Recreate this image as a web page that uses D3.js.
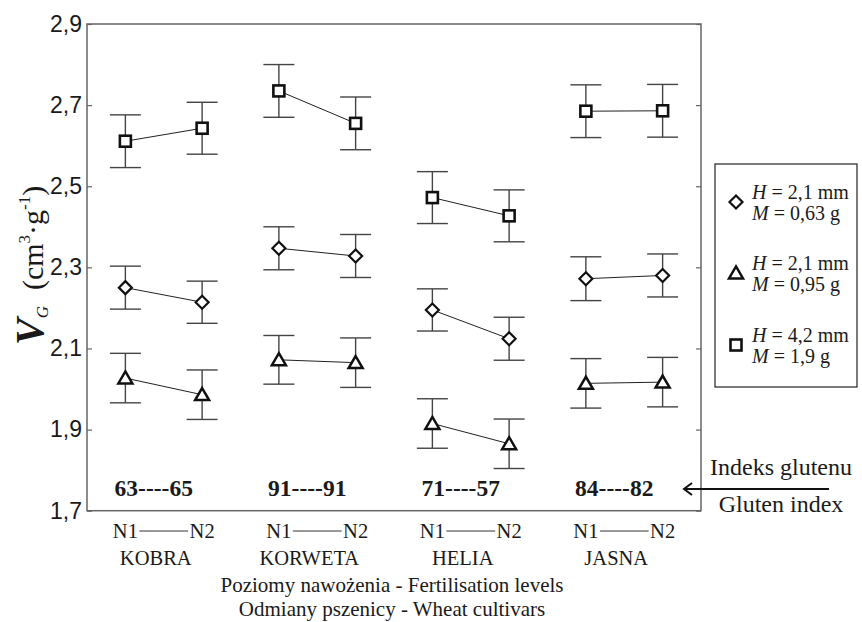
<!DOCTYPE html>
<html>
<head>
<meta charset="utf-8">
<script src="https://cdn.jsdelivr.net/npm/d3@7/dist/d3.min.js"></script>
<style>
  html, body { margin: 0; padding: 0; background: #fff; }
  svg { display: block; }
  text { font-family: "Liberation Serif", "Times New Roman", serif; fill: #1a1a1a; }
</style>
</head>
<body>
<svg id="chart" width="862" height="622"></svg>
<script>
// ---------- data ----------
const cultivars = ["KOBRA", "KORWETA", "HELIA", "JASNA"];
const levels = ["N1", "N2"];
const glutenIndex = ["63----65", "91----91", "71----57", "84----82"];
const yTicks = [1.7, 1.9, 2.1, 2.3, 2.5, 2.7, 2.9];

// order: KOBRA N1, KOBRA N2, KORWETA N1, KORWETA N2, HELIA N1, HELIA N2, JASNA N1, JASNA N2
const diamondMean = [2.250, 2.214, 2.347, 2.328, 2.195, 2.124, 2.272, 2.280];
const diamondErr  = [0.053, 0.052, 0.053, 0.053, 0.052, 0.053, 0.054, 0.053];
const triangleMean = [2.027, 1.986, 2.072, 2.065, 1.915, 1.865, 2.014, 2.017];
const triangleErr  = [0.061, 0.061, 0.060, 0.061, 0.061, 0.061, 0.061, 0.061];
const squareMean = [2.611, 2.643, 2.735, 2.655, 2.472, 2.427, 2.685, 2.686];
const squareErr  = [0.065, 0.064, 0.065, 0.065, 0.064, 0.064, 0.065, 0.065];

const legendItems = [
  { shape: "diamond", h: "2,1 mm", m: "0,63 g" },
  { shape: "triangle", h: "2,1 mm", m: "0,95 g" },
  { shape: "square", h: "4,2 mm", m: "1,9 g" }
];

// ---------- layout ----------
const svg = d3.select("#chart");
const plot = { left: 87, right: 701, top: 24, bottom: 510.7 };

const positions = d3.range(cultivars.length * levels.length);
const x = d3.scaleBand().domain(positions).range([plot.left, plot.right]);
const cx = i => x(i) + x.bandwidth() / 2;
const y = d3.scaleLinear().domain([1.7, 2.9]).range([plot.bottom, plot.top]);

const fmt = v => d3.format(".1f")(v).replace(".", ",");

// frame
svg.append("rect")
  .attr("x", plot.left).attr("y", plot.top)
  .attr("width", plot.right - plot.left).attr("height", plot.bottom - plot.top)
  .attr("fill", "none").attr("stroke", "#666").attr("stroke-width", 1.5);

// left axis
const yAxisL = svg.append("g")
  .attr("transform", `translate(${plot.left},0)`)
  .call(d3.axisLeft(y).tickValues(yTicks).tickFormat(fmt).tickSize(-5).tickPadding(5));
yAxisL.select(".domain").remove();
yAxisL.selectAll("line").attr("stroke", "#666").attr("stroke-width", 1.2);
yAxisL.selectAll("text")
  .style("font-family", "'Liberation Sans', Arial, sans-serif")
  .style("font-size", "23px").attr("fill", "#1a1a1a");

// right axis ticks
const yAxisR = svg.append("g")
  .attr("transform", `translate(${plot.right},0)`)
  .call(d3.axisRight(y).tickValues(yTicks).tickFormat("").tickSize(-5));
yAxisR.select(".domain").remove();
yAxisR.selectAll("line").attr("stroke", "#666").attr("stroke-width", 1.2);

// series
const series = [
  { shape: "diamond", mean: diamondMean, err: diamondErr },
  { shape: "triangle", mean: triangleMean, err: triangleErr },
  { shape: "square", mean: squareMean, err: squareErr }
];

function drawShape(g, shape, px, py) {
  if (shape === "diamond") {
    const r = 6.5;
    g.append("path")
      .attr("d", `M${px},${py - r}L${px + r},${py}L${px},${py + r}L${px - r},${py}Z`)
      .attr("fill", "#fff").attr("stroke", "#111").attr("stroke-width", 2.2);
  } else if (shape === "triangle") {
    const w = 7, h = 12;
    g.append("path")
      .attr("d", `M${px},${py - h * 0.55}L${px + w},${py + h * 0.45}L${px - w},${py + h * 0.45}Z`)
      .attr("fill", "#fff").attr("stroke", "#111").attr("stroke-width", 2.5)
      .attr("stroke-linejoin", "miter");
  } else {
    const s = 11;
    g.append("rect")
      .attr("x", px - s / 2).attr("y", py - s / 2).attr("width", s).attr("height", s)
      .attr("fill", "#fff").attr("stroke", "#111").attr("stroke-width", 2.6);
  }
}

const capHalf = 15.5;
const marks = svg.append("g");
series.forEach(s => {
  // error bars
  positions.forEach(i => {
    const px = cx(i);
    const lo = y(s.mean[i] - s.err[i]), hi = y(s.mean[i] + s.err[i]);
    marks.append("line").attr("x1", px).attr("x2", px).attr("y1", lo).attr("y2", hi)
      .attr("stroke", "#444").attr("stroke-width", 1.4);
    [lo, hi].forEach(v => marks.append("line")
      .attr("x1", px - capHalf).attr("x2", px + capHalf).attr("y1", v).attr("y2", v)
      .attr("stroke", "#444").attr("stroke-width", 1.4));
  });
  // connecting lines per cultivar
  cultivars.forEach((c, k) => {
    const a = 2 * k, b = 2 * k + 1;
    marks.append("line")
      .attr("x1", cx(a)).attr("y1", y(s.mean[a]))
      .attr("x2", cx(b)).attr("y2", y(s.mean[b]))
      .attr("stroke", "#222").attr("stroke-width", 1);
  });
});
series.forEach(s => positions.forEach(i => drawShape(marks, s.shape, cx(i), y(s.mean[i]))));

// gluten index numbers
cultivars.forEach((c, k) => {
  const gc = (cx(2 * k) + cx(2 * k + 1)) / 2 - 10;
  svg.append("text").attr("x", gc).attr("y", 496)
    .attr("text-anchor", "middle")
    .style("font-size", "23.5px").style("font-weight", "bold")
    .text(glutenIndex[k]);
});

// x labels N1 —— N2 and cultivar names
cultivars.forEach((c, k) => {
  const a = cx(2 * k), b = cx(2 * k + 1);
  levels.forEach((lv, j) => {
    svg.append("text").attr("x", j === 0 ? a : b).attr("y", 538)
      .attr("text-anchor", "middle").style("font-size", "20.5px").text(lv);
  });
  svg.append("line").attr("x1", a + 14).attr("x2", b - 14).attr("y1", 531).attr("y2", 531)
    .attr("stroke", "#333").attr("stroke-width", 1);
  svg.append("text").attr("x", (a + b) / 2 - 8).attr("y", 565)
    .attr("text-anchor", "middle").style("font-size", "20.5px").text(c);
});

// axis captions
const midX = (plot.left + plot.right) / 2 - 2;
svg.append("text").attr("x", midX).attr("y", 592).attr("text-anchor", "middle")
  .style("font-size", "21px").text("Poziomy nawożenia - Fertilisation levels");
svg.append("text").attr("x", midX).attr("y", 615.5).attr("text-anchor", "middle")
  .style("font-size", "21px").text("Odmiany pszenicy - Wheat cultivars");

// y title
const yt = svg.append("text")
  .attr("transform", "translate(43,345) rotate(-90)")
  .attr("text-anchor", "start");
yt.append("tspan").style("font-size", "40px").style("font-weight", "bold").style("font-style", "italic").text("V");
yt.append("tspan").style("font-size", "17px").style("font-style", "italic").attr("dy", 5).text("G");
yt.append("tspan").style("font-size", "30px").attr("dy", -5).attr("dx", 16).text("(cm");
yt.append("tspan").style("font-size", "17px").attr("dy", -13).text("3");
yt.append("tspan").style("font-size", "30px").attr("dy", 13).text("·g");
yt.append("tspan").style("font-size", "17px").attr("dy", -13).text("-1");
yt.append("tspan").style("font-size", "30px").attr("dy", 13).text(")");

// legend
svg.append("rect").attr("x", 715).attr("y", 164).attr("width", 142).attr("height", 223)
  .attr("fill", "#fff").attr("stroke", "#222").attr("stroke-width", 1.2);
const legY = [202, 273, 345];
legendItems.forEach((it, k) => {
  drawShape(svg, it.shape, 736, legY[k]);
  const t1 = svg.append("text").attr("x", 752).attr("y", legY[k] - 3).style("font-size", "20px");
  t1.append("tspan").style("font-style", "italic").text("H");
  t1.append("tspan").text(" = " + it.h);
  const t2 = svg.append("text").attr("x", 752).attr("y", legY[k] + 18).style("font-size", "20px");
  t2.append("tspan").style("font-style", "italic").text("M");
  t2.append("tspan").text(" = " + it.m);
});

// gluten index annotation
svg.append("text").attr("x", 781).attr("y", 475).attr("text-anchor", "middle")
  .style("font-size", "24px").text("Indeks glutenu");
svg.append("text").attr("x", 781).attr("y", 512).attr("text-anchor", "middle")
  .style("font-size", "24px").text("Gluten index");
svg.append("line").attr("x1", 684).attr("x2", 829).attr("y1", 489).attr("y2", 489)
  .attr("stroke", "#111").attr("stroke-width", 2);
svg.append("path").attr("d", "M692,483L684,489L692,495")
  .attr("fill", "none").attr("stroke", "#111").attr("stroke-width", 2);
</script>
</body>
</html>
